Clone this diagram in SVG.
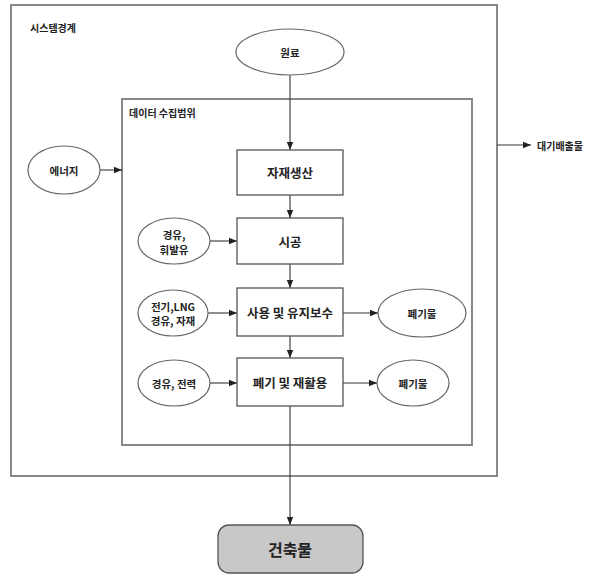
<svg xmlns="http://www.w3.org/2000/svg" width="589" height="578" viewBox="0 0 589 578">
<style>
text{font-family:"Noto Sans CJK KR","Noto Sans",sans-serif;fill:#222;text-anchor:middle;dominant-baseline:central;font-weight:bold}
.frame{fill:none;stroke:#888;stroke-width:2}
.box{fill:#fff;stroke:#555;stroke-width:1.3}
.ell{fill:#fff;stroke:#666;stroke-width:1.2}
.ln{fill:none;stroke:#333;stroke-width:1.1;marker-end:url(#ah)}
.s{font-size:10.5px}
.m{font-size:12.5px}
.lbl{font-size:10px;text-anchor:start}
</style>
<defs>
<marker id="ah" viewBox="0 0 10 10" refX="10" refY="5" markerWidth="9" markerHeight="8" markerUnits="userSpaceOnUse" orient="auto">
<path d="M0,1 L10,5 L0,9 z" fill="#222"/>
</marker>
</defs>
<g id="system-boundary">
<rect class="frame" x="11" y="5" width="486" height="471"/>
<text class="lbl" x="30" y="27">시스템경계</text>
</g>
<g id="data-scope">
<rect class="frame" x="122" y="99" width="350" height="346"/>
<text class="lbl" x="129" y="112">데이터 수집범위</text>
</g>
<g id="connectors">
<line class="ln" x1="290" y1="75" x2="290" y2="150"/>
<line class="ln" x1="100" y1="170" x2="122" y2="170"/>
<line class="ln" x1="497" y1="145" x2="531" y2="145"/>
<line class="ln" x1="290" y1="195" x2="290" y2="218"/>
<line class="ln" x1="210" y1="241" x2="237" y2="241"/>
<line class="ln" x1="290" y1="264" x2="290" y2="288"/>
<line class="ln" x1="208" y1="313" x2="237" y2="313"/>
<line class="ln" x1="343" y1="313" x2="378" y2="313"/>
<line class="ln" x1="290" y1="336" x2="290" y2="358"/>
<line class="ln" x1="210" y1="383" x2="237" y2="383"/>
<line class="ln" x1="343" y1="383" x2="377" y2="383"/>
<line class="ln" x1="290" y1="406" x2="290" y2="525"/>
</g>
<g id="raw-material">
<ellipse class="ell" cx="290" cy="52" rx="54" ry="23"/>
<text class="s" x="290" y="52">원료</text>
</g>
<g id="energy">
<ellipse class="ell" cx="64" cy="170" rx="36" ry="24"/>
<text class="s" x="64" y="170">에너지</text>
</g>
<g id="emission">
<text class="lbl" x="537" y="145">대기배출물</text>
</g>
<g id="production">
<rect class="box" x="237" y="150" width="106" height="45"/>
<text class="m" x="290" y="172">자재생산</text>
</g>
<g id="fuel1">
<ellipse class="ell" cx="174" cy="241" rx="36" ry="23"/>
<text class="s" x="174" y="234">경유,</text>
<text class="s" x="174" y="249">휘발유</text>
</g>
<g id="construction">
<rect class="box" x="237" y="218" width="106" height="46"/>
<text class="m" x="290" y="241">시공</text>
</g>
<g id="fuel2">
<ellipse class="ell" cx="173" cy="313" rx="35" ry="23"/>
<text class="s" x="173" y="306">전기,LNG</text>
<text class="s" x="173" y="320">경유, 자재</text>
</g>
<g id="use">
<rect class="box" x="237" y="288" width="106" height="48"/>
<text class="m" x="290" y="312">사용 및 유지보수</text>
</g>
<g id="waste1">
<ellipse class="ell" cx="422" cy="313" rx="44" ry="24"/>
<text class="s" x="422" y="313">폐기물</text>
</g>
<g id="fuel3">
<ellipse class="ell" cx="174" cy="383" rx="36" ry="23"/>
<text class="s" x="174" y="383">경유, 전력</text>
</g>
<g id="disposal">
<rect class="box" x="237" y="358" width="106" height="48"/>
<text class="m" x="290" y="382">폐기 및 재활용</text>
</g>
<g id="waste2">
<ellipse class="ell" cx="413" cy="383" rx="36" ry="23"/>
<text class="s" x="413" y="383">폐기물</text>
</g>
<g id="building">
<rect x="218" y="525" width="145" height="48" rx="11" fill="#c8c8c8" stroke="#555" stroke-width="1.3"/>
<text x="290" y="549" style="font-size:16px">건축물</text>
</g>
</svg>
